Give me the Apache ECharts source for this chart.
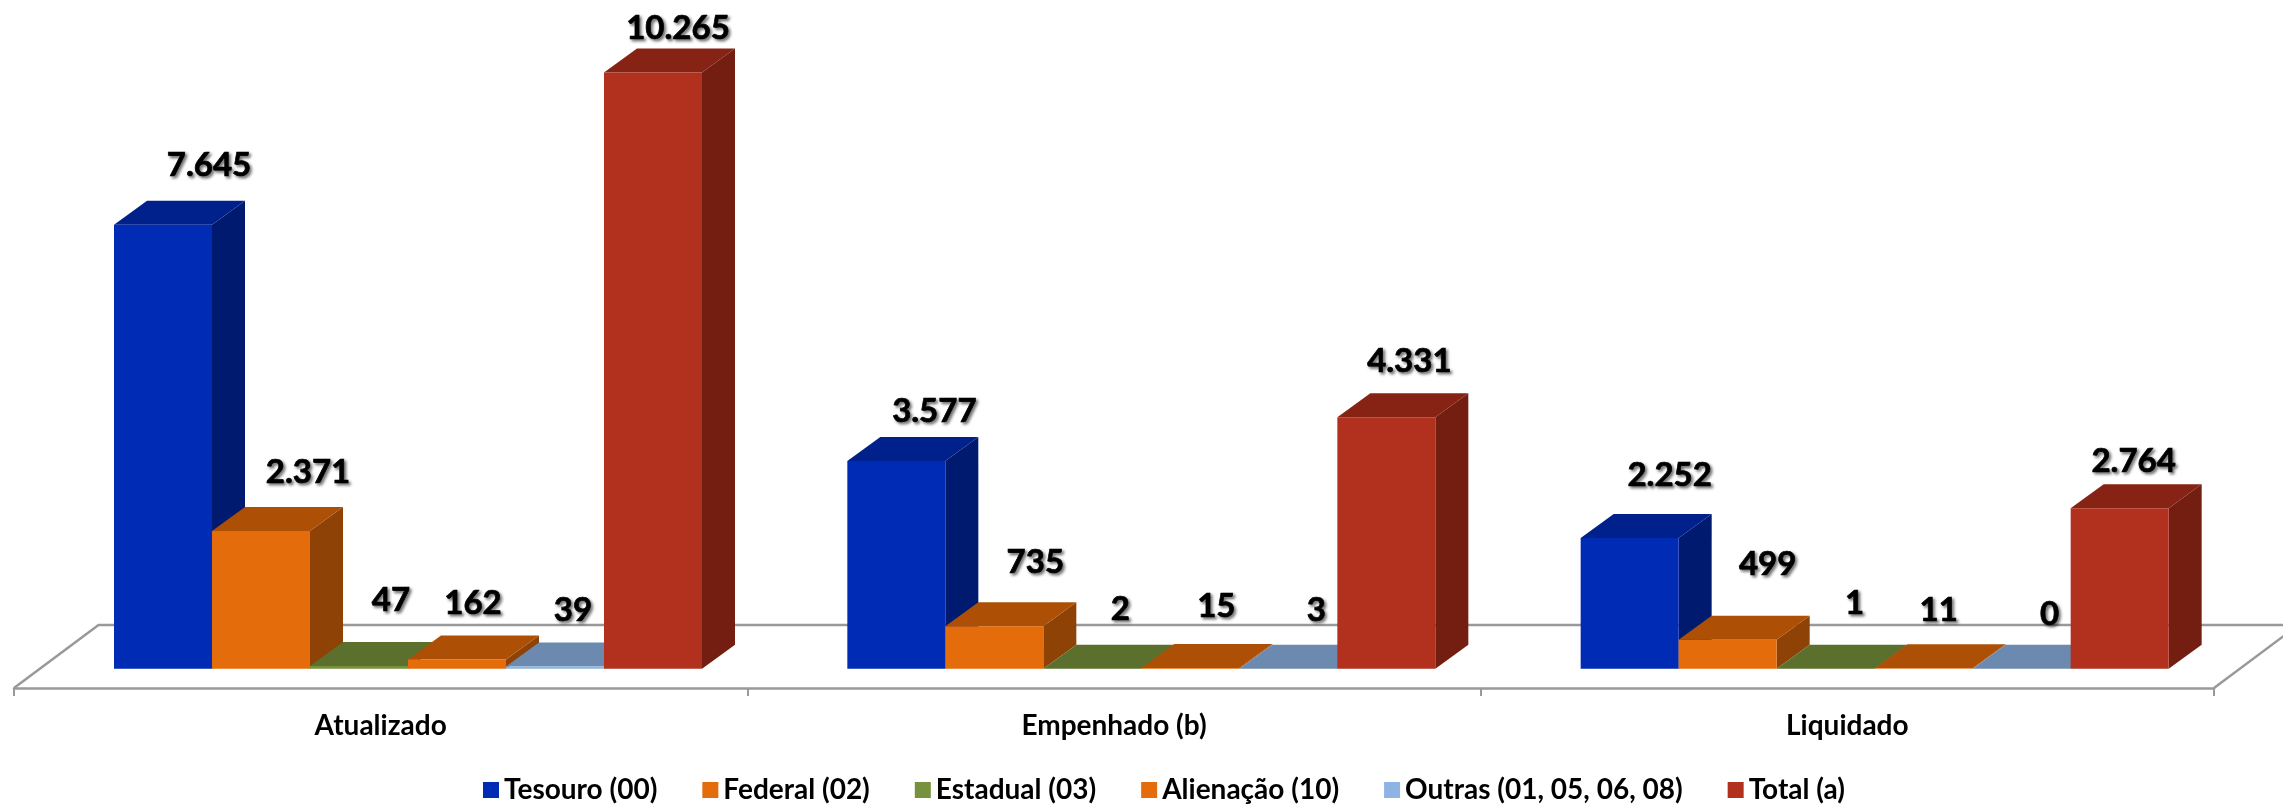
<!DOCTYPE html>
<html>
<head>
<meta charset="utf-8">
<title>Fontes</title>
<style>
  html, body { margin: 0; padding: 0; background: #fff; }
  #main { width: 2283px; height: 805px; }
</style>
<script src="https://cdn.jsdelivr.net/npm/echarts@6/dist/echarts.min.js"></script>
</head>
<body>
<div id="main"></div>
<script>
var categories = ['Atualizado', 'Empenhado (b)', 'Liquidado'];
var seriesNames = ['Tesouro (00)', 'Federal (02)', 'Estadual (03)', 'Alienação (10)', 'Outras (01, 05, 06, 08)', 'Total (a)'];

var tesouro = [7645, 3577, 2252];
var federal = [2371, 735, 499];
var estadual = [47, 2, 1];
var alienacao = [162, 15, 11];
var outras = [39, 3, 0];
var total = [10265, 4331, 2764];

var frontColors = ['#002BB5', '#E46C0A', '#76923C', '#E46C0A', '#8EB4E3', '#B2301E'];
var topColors = ['#00218C', '#AD5005', '#5C702E', '#AD5005', '#6C89AF', '#862315'];
var sideColors = ['#001A70', '#8F4205', '#4A5A25', '#8F4205', '#587090', '#731E11'];

// the labels in the picture are hand placed, so each one keeps its own shift
var labelDx = [[46, 38, 40], [47, 41, 40], [32, 28, 29], [16, 26, 15], [18, 28, 28], [25, 23, 14]];
var labelDy = [[35, 26, 39], [35, 40, 51], [42, 35, 41], [32, 38, 34], [32, 34, 30], [20, 32, 23]];

var depthX = 33, depthY = 24;
var floorX = 84.5, floorY = 63;

function fmt(v) {
  return String(v).replace(/\B(?=(\d{3})+$)/g, '.');
}

function renderBar(s) {
  return function (params, api) {
    var cat = api.value(0);
    var band = api.size([1, 0])[0];
    var w = band * 98 / 733.33;
    var center = api.coord([cat, 0]);
    var left = center[0] - band / 2 + 2 + (s + 1) * w;
    var base = center[1];
    var top = api.coord([cat, api.value(1)])[1];
    var right = left + w;
    return {
      type: 'group',
      children: [
        { type: 'polygon', shape: { points: [[right, top], [right + depthX, top - depthY], [right + depthX, base - depthY], [right, base]] }, style: { fill: sideColors[s] } },
        { type: 'polygon', shape: { points: [[left, top], [left + depthX, top - depthY], [right + depthX, top - depthY], [right, top]] }, style: { fill: topColors[s] } },
        { type: 'rect', shape: { x: left, y: top, width: w, height: base - top }, style: { fill: frontColors[s] } },
        {
          type: 'text',
          z2: 50,
          x: left + w / 2 + labelDx[s][cat],
          y: top - depthY - labelDy[s][cat],
          style: {
            text: fmt(api.value(1)),
            font: 'bold 33px Lato',
            fill: '#000',
            stroke: '#000',
            lineWidth: 0.7,
            align: 'center',
            verticalAlign: 'middle',
            textShadowColor: 'rgba(0,0,0,0.55)',
            textShadowBlur: 3,
            textShadowOffsetX: 2,
            textShadowOffsetY: 2
          }
        }
      ]
    };
  };
}

function renderFloor(params, api) {
  var g = params.coordSys;
  var bottom = g.y + g.height;
  return {
    type: 'polyline',
    shape: { points: [[g.x, bottom], [g.x + floorX, bottom - floorY], [g.x + g.width + floorX, bottom - floorY], [g.x + g.width, bottom]] },
    style: { fill: null, stroke: '#999', lineWidth: 2.5 }
  };
}

var values = [tesouro, federal, estadual, alienacao, outras, total];
var series = [{
  type: 'custom',
  name: 'floor',
  silent: true,
  clip: false,
  z: 1,
  renderItem: renderFloor,
  data: [[0, 0]]
}];
seriesNames.forEach(function (name, s) {
  series.push({
    type: 'custom',
    name: name,
    clip: false,
    z: 2 + s,
    itemStyle: { color: frontColors[s] },
    encode: { x: 0, y: 1 },
    renderItem: renderBar(s),
    data: values[s].map(function (v, i) { return [i, v]; })
  });
});

var chart = echarts.init(document.getElementById('main'));
chart.setOption({
  animation: false,
  backgroundColor: '#fff',
  grid: { left: 14, right: 69, top: 20, height: 668 },
  legend: {
    data: seriesNames,
    left: 478,
    top: 771,
    itemGap: 45,
    itemWidth: 16,
    itemHeight: 16,
    icon: 'rect',
    textStyle: { fontFamily: 'Lato', fontWeight: 'bold', fontSize: 28, color: '#000' }
  },
  xAxis: {
    type: 'category',
    data: categories,
    position: 'bottom',
    axisLine: { onZero: false, lineStyle: { color: '#999', width: 2.5 } },
    axisTick: { show: true, length: 8, lineStyle: { color: '#999', width: 2 } },
    axisLabel: { fontFamily: 'Lato', fontWeight: 'bold', fontSize: 28, color: '#000', margin: 24 }
  },
  yAxis: {
    type: 'value',
    min: -330,
    max: 11170,
    show: false
  },
  series: series
});
</script>
</body>
</html>
